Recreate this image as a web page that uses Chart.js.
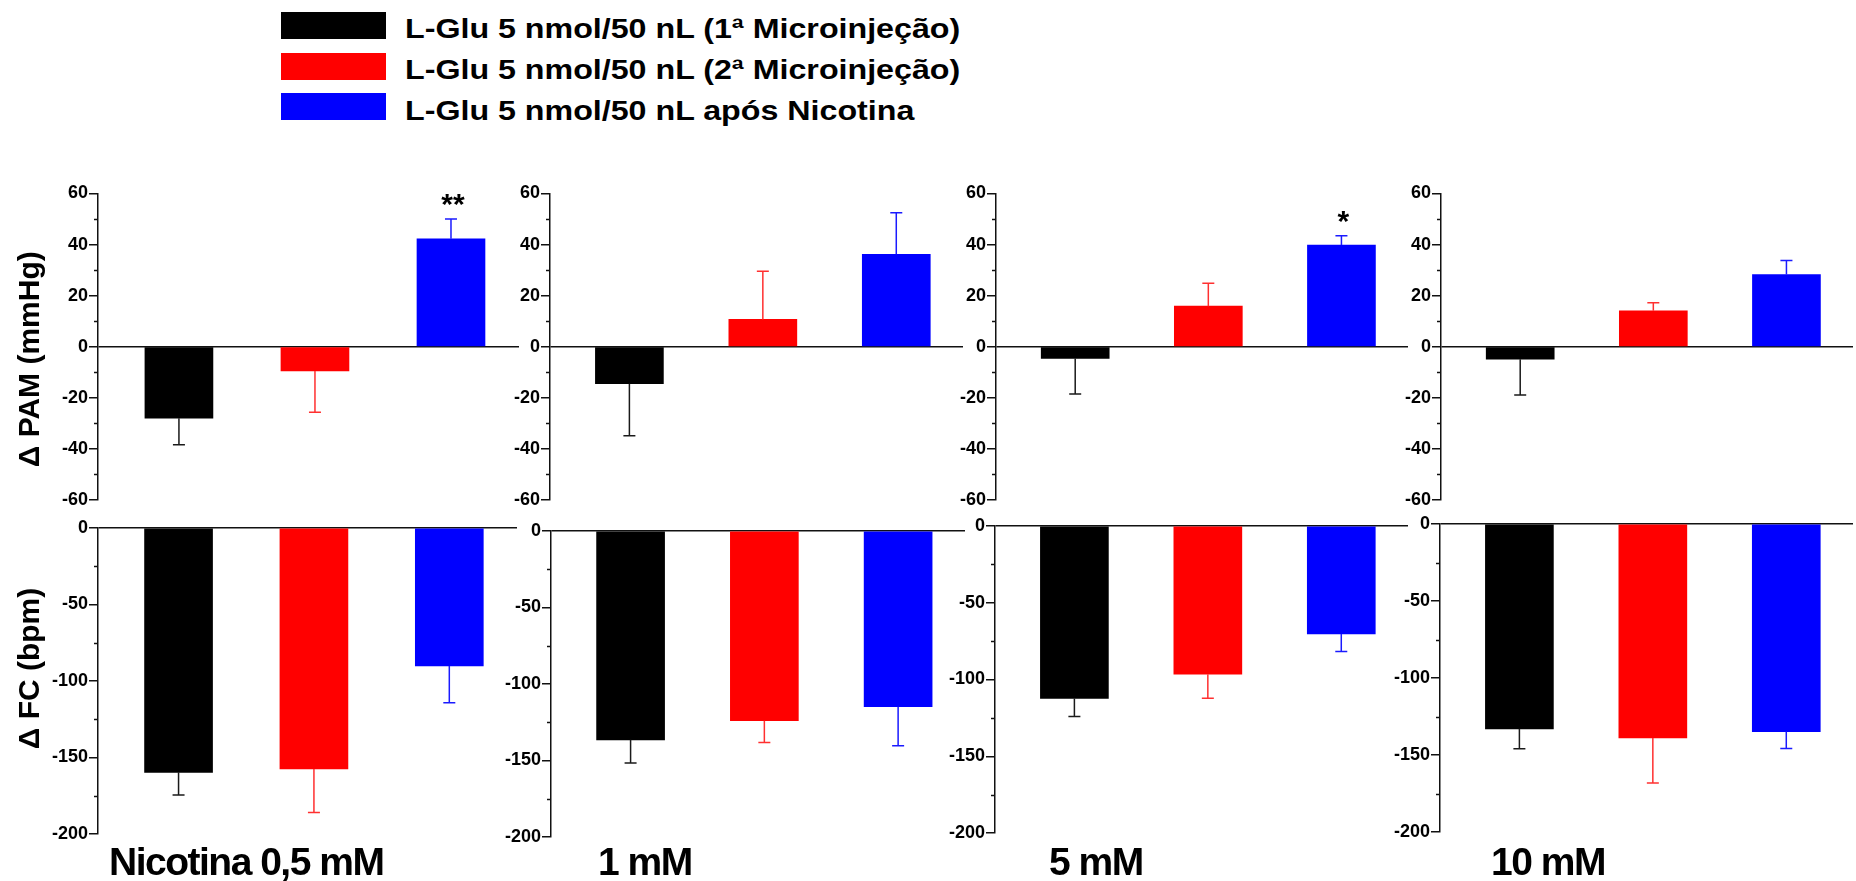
<!DOCTYPE html>
<html>
<head>
  <title>L-Glu antes e após Nicotina</title>
  <script src="https://cdn.jsdelivr.net/npm/chart.js"></script>
  <style>
    body {
      margin: 0;
      background: #fff;
      font-family: 'Liberation Sans', Arial, sans-serif;
    }
    #page {
      position: relative;
      width: 1856px;
      height: 881px;
      overflow: hidden;
    }
    canvas {
      position: absolute;
    }
    .group-label {
      position: absolute;
      font-weight: bold;
      font-size: 39px;
      line-height: 39px;
      letter-spacing: -1.5px;
      white-space: nowrap;
    }
    .swatch {
      position: absolute;
      width: 105px;
      height: 27px;
    }
    .legend-text {
      position: absolute;
      font-weight: bold;
      font-size: 28px;
      line-height: 28px;
      white-space: nowrap;
      transform: scaleX(1.15);
      transform-origin: 0 0;
    }
  </style>
</head>
<body>
  <div id="page"></div>
  <script>
    const groups = ['Nicotina 0,5 mM', '1 mM', '5 mM', '10 mM'];
    const series = [
      'L-Glu 5 nmol/50 nL (1ª Microinjeção)',
      'L-Glu 5 nmol/50 nL (2ª Microinjeção)',
      'L-Glu 5 nmol/50 nL após Nicotina'
    ];
    const colors = ['#000000', '#ff0000', '#0000ff'];
    const errColors = ['#1a1a1a', '#ff3030', '#1a1aff'];

    // Δ PAM (mmHg): one row per nicotine dose, columns follow `series`
    const pamMean = [
      [-28.0, -9.5, 42.3],
      [-14.5, 10.7, 36.2],
      [-4.6, 15.9, 39.8],
      [-4.9, 14.1, 28.3]
    ];
    const pamSem = [
      [10.4, 16.1, 7.7],
      [20.3, 18.9, 16.3],
      [13.9, 9.0, 3.7],
      [14.0, 3.1, 5.5]
    ];
    const pamStars = [['', '', '**'], ['', '', ''], ['', '', '*'], ['', '', '']];

    // Δ FC (bpm)
    const fcMean = [
      [-159.7, -157.5, -90.2],
      [-136.5, -124.0, -114.8],
      [-112.4, -96.5, -70.3],
      [-133.0, -138.9, -134.8]
    ];
    const fcSem = [
      [14.8, 28.4, 24.0],
      [15.2, 14.3, 25.6],
      [11.7, 15.7, 11.5],
      [13.0, 29.3, 11.0]
    ];

    const pamTicks = { min: -60, max: 60, step: 20 };
    const fcTicks = { min: -200, max: 0, step: 50 };

    // page layout (pixels)
    const topAxisX = [98, 550, 996, 1441];
    const topEnd = [519, 963, 1408, 1853];
    const botAxisX = [98, 551, 995, 1440];
    const botEnd = [517, 965, 1408, 1853];
    const botZero = [528, 531, 526, 524];
    const botBase = [834, 837, 833, 832];
    const labelX = [109, 598, 1049, 1491];

    Chart.defaults.font.family = "'Liberation Sans', Arial, sans-serif";
    Chart.defaults.font.weight = 'bold';
    Chart.defaults.font.size = 18;
    Chart.defaults.color = '#000';

    const page = document.getElementById('page');

    const errorBars = {
      id: 'errorBars',
      afterDatasetsDraw(chart, args, opts) {
        const ctx = chart.ctx;
        const y = chart.scales.y;
        const meta = chart.getDatasetMeta(0);
        const data = chart.data.datasets[0].data;
        ctx.save();
        ctx.lineWidth = 1.5;
        meta.data.forEach((bar, i) => {
          const v = data[i].y;
          const tip = y.getPixelForValue(v + Math.sign(v) * opts.sem[i]);
          ctx.strokeStyle = errColors[i];
          ctx.beginPath();
          ctx.moveTo(bar.x, bar.y);
          ctx.lineTo(bar.x, tip);
          ctx.moveTo(bar.x - 6, tip);
          ctx.lineTo(bar.x + 6, tip);
          ctx.stroke();
          const star = opts.stars && opts.stars[i];
          if (star) {
            ctx.fillStyle = '#000';
            ctx.font = "bold 30px 'Liberation Sans', Arial, sans-serif";
            ctx.textAlign = 'center';
            ctx.textBaseline = 'alphabetic';
            ctx.fillText(star, bar.x + 2, tip - 5);
          }
        });
        ctx.restore();
      }
    };

    const minorTicks = {
      id: 'minorTicks',
      afterDraw(chart, args, opts) {
        const ctx = chart.ctx;
        const y = chart.scales.y;
        ctx.save();
        ctx.strokeStyle = '#111';
        ctx.lineWidth = 1.5;
        for (let v = y.min + opts.step / 2; v < y.max; v += opts.step) {
          const py = Math.round(y.getPixelForValue(v)) + 0.5;
          ctx.beginPath();
          ctx.moveTo(y.right - 4, py);
          ctx.lineTo(y.right, py);
          ctx.stroke();
        }
        ctx.restore();
      }
    };

    function makePanel(p) {
      const yW = p.title ? 98 : 58;
      const left = p.axisX - yW;
      const width = p.end + 3 - left;
      const height = p.yBot - p.yTop + p.padT + p.padB;
      const canvas = document.createElement('canvas');
      canvas.width = width;
      canvas.height = height;
      canvas.style.left = left + 'px';
      canvas.style.top = (p.yTop - p.padT) + 'px';
      page.appendChild(canvas);

      new Chart(canvas, {
        type: 'bar',
        data: {
          datasets: [{
            data: p.mean.map((v, i) => ({ x: i, y: v })),
            backgroundColor: colors,
            borderWidth: 0,
            barThickness: 68
          }]
        },
        options: {
          responsive: false,
          animation: false,
          events: [],
          layout: { padding: { top: p.padT, bottom: p.padB, left: 0, right: 3 } },
          plugins: {
            legend: { display: false },
            tooltip: { enabled: false },
            errorBars: { sem: p.sem, stars: p.stars },
            minorTicks: { step: p.ticks.step }
          },
          scales: {
            x: {
              type: 'linear',
              min: -0.595,
              max: 2.5,
              offset: false,
              display: false
            },
            y: {
              min: p.ticks.min,
              max: p.ticks.max,
              ticks: { stepSize: p.ticks.step, padding: 1, color: '#000' },
              grid: {
                color: c => (c.tick && c.tick.value === 0 ? '#111' : 'rgba(0,0,0,0)'),
                lineWidth: 1.5,
                tickLength: 9,
                tickColor: '#111',
                tickWidth: 1.5
              },
              border: { color: '#111', width: 1.5 },
              title: {
                display: !!p.title,
                text: p.title || '',
                color: '#000',
                font: { size: 30, weight: 'bold' },
                padding: { top: 13, bottom: 0 }
              },
              afterFit: s => { s.width = yW; }
            }
          }
        },
        plugins: [errorBars, minorTicks]
      });
    }

    groups.forEach((g, k) => {
      makePanel({
        axisX: topAxisX[k], end: topEnd[k],
        yTop: 193.5, yBot: 500, padT: 43.5, padB: 15,
        mean: pamMean[k], sem: pamSem[k], stars: pamStars[k], ticks: pamTicks,
        title: k === 0 ? 'Δ PAM (mmHg)   ' : null
      });
      makePanel({
        axisX: botAxisX[k], end: botEnd[k],
        yTop: botZero[k], yBot: botBase[k], padT: 20, padB: 14,
        mean: fcMean[k], sem: fcSem[k], stars: null, ticks: fcTicks,
        title: k === 0 ? '   Δ FC (bpm)' : null
      });
      const lbl = document.createElement('div');
      lbl.className = 'group-label';
      lbl.textContent = g;
      lbl.style.left = labelX[k] + 'px';
      lbl.style.top = '842px';
      page.appendChild(lbl);
    });

    // legend
    series.forEach((s, i) => {
      const sw = document.createElement('div');
      sw.className = 'swatch';
      sw.style.background = colors[i];
      sw.style.left = '281px';
      sw.style.top = (12 + i * 40.5) + 'px';
      page.appendChild(sw);
      const tx = document.createElement('div');
      tx.className = 'legend-text';
      tx.textContent = s;
      tx.style.left = '405px';
      tx.style.top = (14.5 + i * 41) + 'px';
      page.appendChild(tx);
    });
  </script>
</body>
</html>
